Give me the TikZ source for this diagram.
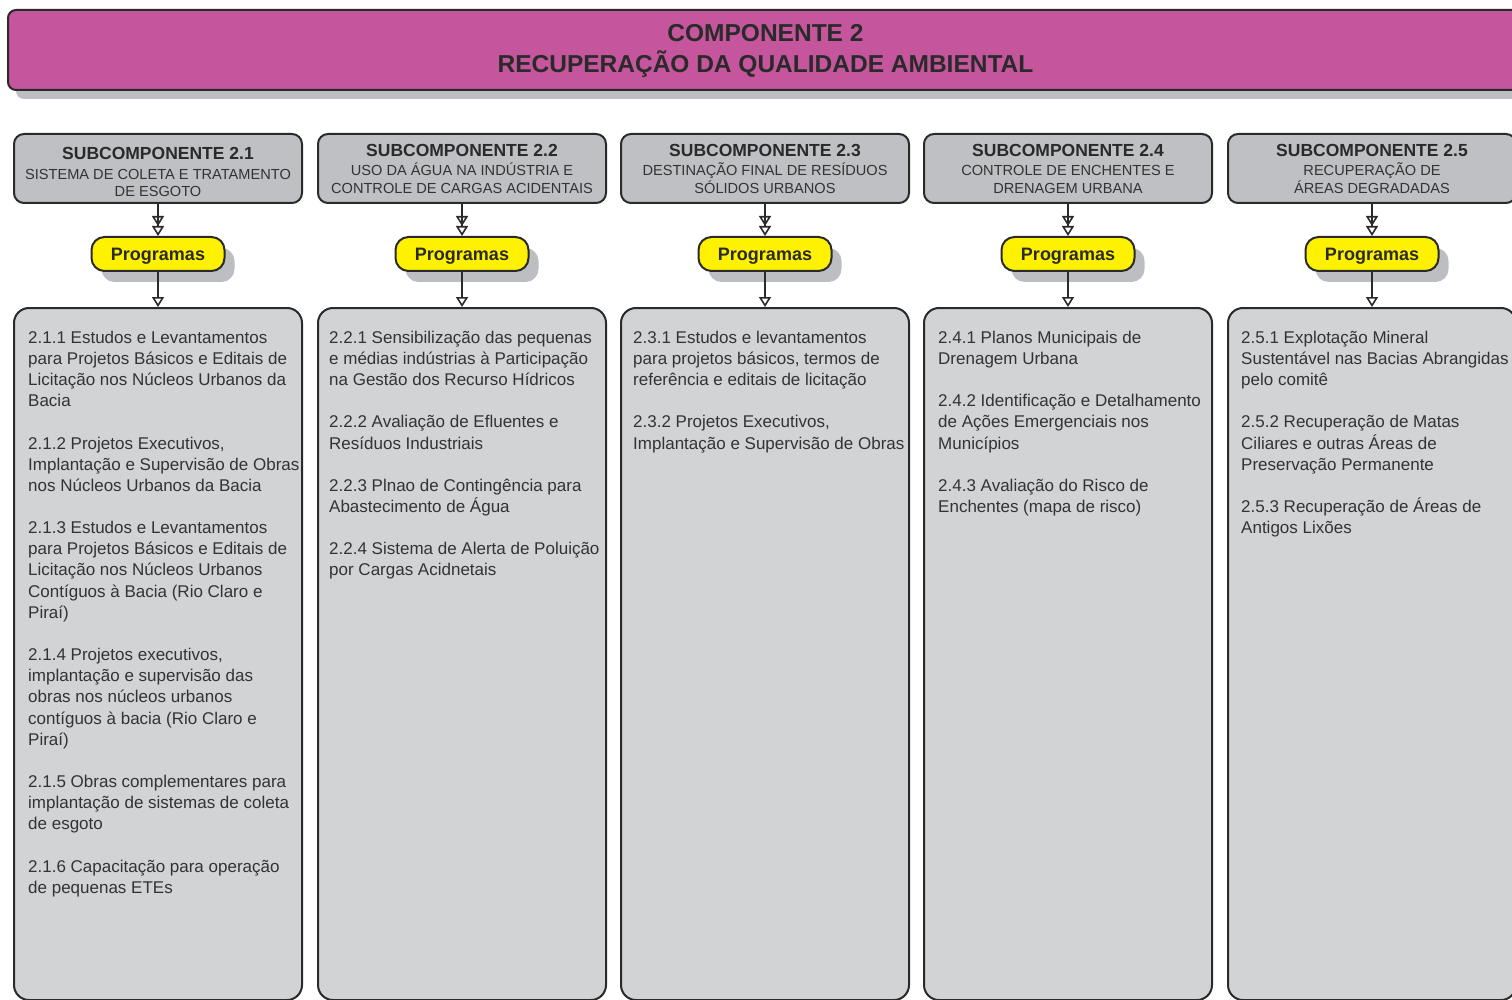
\documentclass[tikz,border=0pt]{standalone}
\usepackage{fontspec}
\setmainfont{Liberation Sans}
\usetikzlibrary{arrows.meta,shadows}
\definecolor{pinkc}{HTML}{C5569D}
\definecolor{subc}{HTML}{BFC0C3}
\definecolor{listc}{HTML}{D2D3D5}
\definecolor{yelc}{HTML}{FFF200}
\definecolor{shadc}{HTML}{BDBEC1}
\definecolor{linec}{HTML}{2A2A2A}
\definecolor{textc}{HTML}{333333}
\begin{document}
\begin{tikzpicture}[x=1pt,y=-1pt,
  headbox/.style={draw=linec,line width=2pt,fill=pinkc,rounded corners=8pt,
    minimum width=1515pt,minimum height=80pt,inner sep=0pt,
    drop shadow={shadow xshift=8pt,shadow yshift=-9pt,fill=shadc,opacity=1}},
  headtext/.style={anchor=base,inner sep=0pt,text=linec,font=\bfseries\fontsize{24.5}{29}\selectfont},
  subbox/.style={draw=linec,line width=2pt,fill=subc,rounded corners=10pt,
    minimum width=288pt,minimum height=69pt,inner sep=0pt},
  subtitle/.style={anchor=base,inner sep=0pt,text=linec,font=\bfseries\fontsize{17.5}{20}\selectfont},
  subline/.style={anchor=base,inner sep=0pt,text=textc,font=\fontsize{14.6}{17.5}\selectfont},
  progbox/.style={draw=linec,line width=2pt,fill=yelc,rounded corners=13pt,
    minimum width=133pt,minimum height=34pt,inner sep=0pt,text height=12.9pt,text depth=0pt,
    text=linec,font=\bfseries\fontsize{18}{21}\selectfont,
    drop shadow={shadow xshift=10pt,shadow yshift=-11pt,fill=shadc,opacity=1}},
  listbox/.style={draw=linec,line width=2pt,fill=listc,rounded corners=15pt,
    minimum width=288pt,minimum height=692pt,inner sep=0pt},
  listtext/.style={anchor=north west,align=left,inner sep=0pt,text=textc,
    font=\fontsize{17}{21.15}\selectfont},
  dbl/.style={draw=linec,line width=1.8pt,
    -{Triangle[open,length=10pt,width=12pt,line width=1.6pt]Triangle[open,length=10pt,width=12pt,line width=1.6pt]}},
  sgl/.style={draw=linec,line width=1.8pt,
    -{Triangle[open,length=10pt,width=12pt,line width=1.6pt]}}
]
\useasboundingbox (0,0) rectangle (1512,1000);
\clip (0,0) rectangle (1512,1000);

% header
\node[headbox] (head) at (765.5,50) {};
\node[headtext] (headA) at (765.5,41.8) {COMPONENTE 2};
\node[headtext] (headB) at (765.5,72.8) {RECUPERAÇÃO DA QUALIDADE AMBIENTAL};

% subcomponent boxes
\node[subbox] (s1) at (158,168.5) {};
\node[subbox] (s2) at (462,168.5) {};
\node[subbox] (s3) at (765,168.5) {};
\node[subbox] (s4) at (1068,168.5) {};
\node[subbox] (s5) at (1372,168.5) {};

\node[subtitle] (s1t) at (158,159.3) {SUBCOMPONENTE 2.1};
\node[subline] (s1a) at (158,179.2) {SISTEMA DE COLETA E TRATAMENTO};
\node[subline] (s1b) at (158,196.2) {DE ESGOTO};

\node[subtitle] (s2t) at (462,156.3) {SUBCOMPONENTE 2.2};
\node[subline] (s2a) at (462,175.7) {USO DA ÁGUA NA INDÚSTRIA E};
\node[subline] (s2b) at (462,193.2) {CONTROLE DE CARGAS ACIDENTAIS};

\node[subtitle] (s3t) at (765,156.3) {SUBCOMPONENTE 2.3};
\node[subline] (s3a) at (765,175.7) {DESTINAÇÃO FINAL DE RESÍDUOS};
\node[subline] (s3b) at (765,193.2) {SÓLIDOS URBANOS};

\node[subtitle] (s4t) at (1068,156.3) {SUBCOMPONENTE 2.4};
\node[subline] (s4a) at (1068,175.7) {CONTROLE DE ENCHENTES E};
\node[subline] (s4b) at (1068,193.2) {DRENAGEM URBANA};

\node[subtitle] (s5t) at (1372,156.3) {SUBCOMPONENTE 2.5};
\node[subline] (s5a) at (1372,175.7) {RECUPERAÇÃO DE};
\node[subline] (s5b) at (1372,193.2) {ÁREAS DEGRADADAS};

% programas
\node[progbox] (p1) at (158,254) {Programas};
\node[progbox] (p2) at (462,254) {Programas};
\node[progbox] (p3) at (765,254) {Programas};
\node[progbox] (p4) at (1068,254) {Programas};
\node[progbox] (p5) at (1372,254) {Programas};

% list boxes
\node[listbox] (l1) at (158,654) {};
\node[listbox] (l2) at (462,654) {};
\node[listbox] (l3) at (765,654) {};
\node[listbox] (l4) at (1068,654) {};
\node[listbox] (l5) at (1372,654) {};

% connectors
\foreach \i in {1,...,5}{
  \draw[dbl] (s\i.south) -- (p\i.north);
  \draw[sgl] (p\i.south) -- (l\i.north);
}

% list texts
\node[listtext] (l1t) at (28,330.8) {2.1.1 Estudos e Levantamentos\\para Projetos Básicos e Editais de\\Licitação nos Núcleos Urbanos da\\Bacia\\[21.15pt]
2.1.2 Projetos Executivos,\\Implantação e Supervisão de Obras\\nos Núcleos Urbanos da Bacia\\[21.15pt]
2.1.3 Estudos e Levantamentos\\para Projetos Básicos e Editais de\\Licitação nos Núcleos Urbanos\\Contíguos à Bacia (Rio Claro e\\Piraí)\\[21.15pt]
2.1.4 Projetos executivos,\\implantação e supervisão das\\obras nos núcleos urbanos\\contíguos à bacia (Rio Claro e\\Piraí)\\[21.15pt]
2.1.5 Obras complementares para\\implantação de sistemas de coleta\\de esgoto\\[21.15pt]
2.1.6 Capacitação para operação\\de pequenas ETEs};

\node[listtext] (l2t) at (329,330.8) {2.2.1 Sensibilização das pequenas\\e médias indústrias à Participação\\na Gestão dos Recurso Hídricos\\[21.15pt]
2.2.2 Avaliação de Efluentes e\\Resíduos Industriais\\[21.15pt]
2.2.3 Plnao de Contingência para\\Abastecimento de Água\\[21.15pt]
2.2.4 Sistema de Alerta de Poluição\\por Cargas Acidnetais};

\node[listtext] (l3t) at (633,330.8) {2.3.1 Estudos e levantamentos\\para projetos básicos, termos de\\referência e editais de licitação\\[21.15pt]
2.3.2 Projetos Executivos,\\Implantação e Supervisão de Obras};

\node[listtext] (l4t) at (938,330.8) {2.4.1 Planos Municipais de\\Drenagem Urbana\\[21.15pt]
2.4.2 Identificação e Detalhamento\\de Ações Emergenciais nos\\Municípios\\[21.15pt]
2.4.3 Avaliação do Risco de\\Enchentes (mapa de risco)};

\node[listtext] (l5t) at (1241,330.8) {2.5.1 Explotação Mineral\\Sustentável nas Bacias Abrangidas\\pelo comitê\\[21.15pt]
2.5.2 Recuperação de Matas\\Ciliares e outras Áreas de\\Preservação Permanente\\[21.15pt]
2.5.3 Recuperação de Áreas de\\Antigos Lixões};
\end{tikzpicture}
\end{document}
